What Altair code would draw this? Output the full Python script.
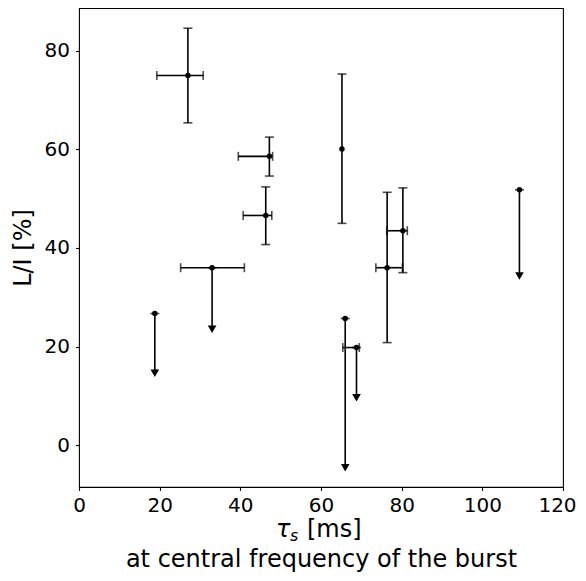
import altair as alt
import pandas as pd

# measured points (with two-sided error bars)
m_x = [27.0, 47.2, 46.3, 65.2, 80.3, 76.4]
m_y = [75.0, 58.6, 46.6, 60.1, 43.5, 36.0]
m_xlo = [19.3, 39.5, 40.7, None, 76.3, 73.6]
m_xhi = [30.8, 48.0, 47.8, None, 81.4, 80.2]
m_ylo = [65.4, 54.6, 40.7, 45.0, 35.0, 20.8]
m_yhi = [84.6, 62.5, 52.4, 75.3, 52.2, 51.3]

# upper limits (arrows pointing down)
u_x = [109.2, 66.0, 68.8, 18.8, 33.0]
u_y = [51.8, 25.7, 19.8, 26.7, 36.0]
u_end = [34.3, -4.6, 9.6, 14.6, 23.5]
u_xlo = [None, None, 65.4, None, 25.2]
u_xhi = [None, None, 69.5, None, 41.0]

X_DOMAIN = [0, 120]
Y_DOMAIN = [-8.5, 88.7]
x_ticks = [0, 20, 40, 60, 80, 100, 120]
y_ticks = [0, 20, 40, 60, 80]

X_TITLE_SYMBOL = "τ"
X_TITLE_SUB = "s"
X_TITLE_UNIT = "[ms]"
X_TITLE_LINE2 = "at central frequency of the burst"
Y_TITLE = "L/I [%]"

meas = pd.DataFrame(dict(x=m_x, y=m_y, xlo=m_xlo, xhi=m_xhi, ylo=m_ylo, yhi=m_yhi))
ul = pd.DataFrame(dict(x=u_x, y=u_y, yend=u_end, xlo=u_xlo, xhi=u_xhi))

xs = alt.Scale(domain=X_DOMAIN, nice=False, zero=False)
ys = alt.Scale(domain=Y_DOMAIN, nice=False, zero=False)

xaxis = alt.Axis(
    values=x_ticks, title=X_TITLE_LINE2, labelFlush=False,
    labelOffset={"condition": {"test": "datum.value == 120", "value": -6}, "value": 0},
)
yaxis = alt.Axis(values=y_ticks, title=Y_TITLE, labelFlush=False)

X = lambda f: alt.X(f, type="quantitative", scale=xs, axis=xaxis)
Y = lambda f: alt.Y(f, type="quantitative", scale=ys, axis=yaxis)

K = "black"
LW = 1.6
CAP = 9

base_m = alt.Chart(meas)
base_u = alt.Chart(ul)

layers = []
# vertical error bars
layers.append(base_m.mark_rule(color=K, strokeWidth=LW).encode(x=X("x"), y=Y("ylo"), y2="yhi"))
layers.append(base_m.mark_tick(color=K, orient="horizontal", size=CAP, thickness=LW).encode(x=X("x"), y=Y("ylo")))
layers.append(base_m.mark_tick(color=K, orient="horizontal", size=CAP, thickness=LW).encode(x=X("x"), y=Y("yhi")))
# horizontal error bars
mx = base_m.transform_filter("isValid(datum.xlo)")
layers.append(mx.mark_rule(color=K, strokeWidth=LW).encode(x=X("xlo"), x2="xhi", y=Y("y")))
layers.append(mx.mark_tick(color=K, orient="vertical", size=CAP, thickness=LW).encode(x=X("xlo"), y=Y("y")))
layers.append(mx.mark_tick(color=K, orient="vertical", size=CAP, thickness=LW).encode(x=X("xhi"), y=Y("y")))
layers.append(base_m.mark_circle(color=K, size=30, opacity=1).encode(x=X("x"), y=Y("y")))

# upper limits
layers.append(base_u.mark_rule(color=K, strokeWidth=LW).encode(x=X("x"), y=Y("y"), y2="yend"))
layers.append(base_u.mark_tick(color=K, orient="horizontal", size=CAP, thickness=LW).encode(x=X("x"), y=Y("y")))
ux = base_u.transform_filter("isValid(datum.xlo)")
layers.append(ux.mark_rule(color=K, strokeWidth=LW).encode(x=X("xlo"), x2="xhi", y=Y("y")))
layers.append(ux.mark_tick(color=K, orient="vertical", size=CAP, thickness=LW).encode(x=X("xlo"), y=Y("y")))
layers.append(ux.mark_tick(color=K, orient="vertical", size=CAP, thickness=LW).encode(x=X("xhi"), y=Y("y")))
layers.append(base_u.mark_circle(color=K, size=30, opacity=1).encode(x=X("x"), y=Y("y")))
layers.append(base_u.mark_point(shape="triangle-down", filled=True, color=K, size=75, opacity=1).encode(x=X("x"), y=Y("yend")))

# first line of the x-axis title: italic tau with subscript s, then the unit
one = pd.DataFrame({"k": [0]})
FONT = "DejaVu Sans"
layers.append(alt.Chart(one).mark_text(text=X_TITLE_SYMBOL, font=FONT, fontSize=24, fontStyle="italic",
                                        align="left", baseline="alphabetic", color=K)
              .encode(x=alt.value(197), y=alt.value(529)))
layers.append(alt.Chart(one).mark_text(text=X_TITLE_SUB, font=FONT, fontSize=16, fontStyle="italic",
                                        align="left", baseline="alphabetic", color=K)
              .encode(x=alt.value(211), y=alt.value(533)))
layers.append(alt.Chart(one).mark_text(text=X_TITLE_UNIT, font=FONT, fontSize=24,
                                        align="left", baseline="alphabetic", color=K)
              .encode(x=alt.value(228), y=alt.value(529)))

chart = alt.layer(*layers).properties(
    width=484, height=479,
    autosize=alt.AutoSizeParams(type="none"),
    padding={"left": 71, "top": 0, "right": 15, "bottom": 90},
).configure_view(
    stroke="black", strokeWidth=1.1
).configure_axis(
    grid=False, domain=False,
    tickColor="black", tickSize=3.5, tickWidth=1.1,
    labelFont=FONT, labelFontSize=20, labelColor="black", labelPadding=6,
    titleFont=FONT, titleFontSize=24, titleFontWeight="normal", titleColor="black",
).configure_axisX(
    titlePadding=32, labelPadding=5,
).configure_axisY(
    titlePadding=9,
)

chart.save("out.html", embed_options={"renderer": "svg", "actions": False})
